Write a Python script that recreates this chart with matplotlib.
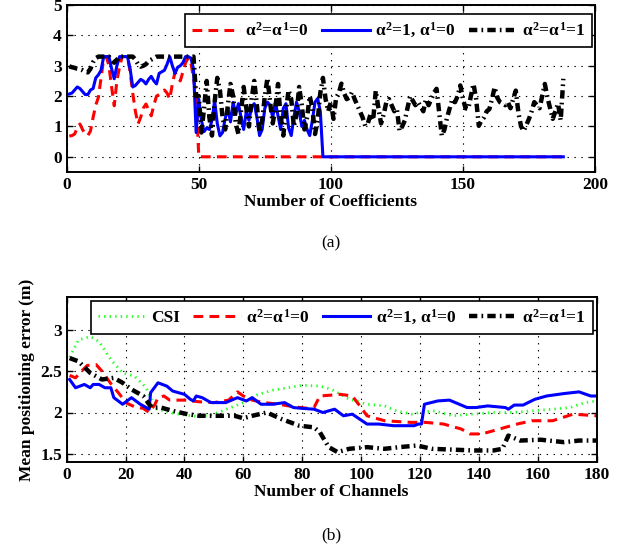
import numpy as np
import matplotlib
matplotlib.use("Agg")
import matplotlib.pyplot as plt

plt.rcParams['font.family'] = ['Liberation Serif', 'DejaVu Serif']
plt.rcParams['font.weight'] = 'bold'
plt.rcParams['mathtext.fontset'] = 'custom'
plt.rcParams['mathtext.rm'] = 'Liberation Serif:bold'
plt.rcParams['mathtext.it'] = 'Liberation Serif:bold'
plt.rcParams['mathtext.bf'] = 'Liberation Serif:bold'
plt.rcParams['lines.scale_dashes'] = False

# ---- (a) error vs number of coefficients ----
coef_red = [0.68, 0.7, 0.75, 0.95, 1.08, 0.9, 0.75, 0.7, 0.85, 1.3,
            1.7, 1.96, 2.6, 3.23, 3.3, 3.0, 2.3, 1.68, 2.5, 2.96,
            3.3, 3.3, 3.3, 2.8, 2.1, 1.5, 1.08, 1.3, 1.6, 1.74,
            1.55, 1.35, 1.7, 2.0, 2.05, 2.1, 2.2, 2.1, 1.9, 2.4,
            2.79, 2.6, 2.5, 2.8, 3.1, 3.25, 3.1, 2.6, 2.0] + [0.0] * 139

coef_blue = [2.07, 2.1, 2.2, 2.3, 2.25, 2.15, 2.05, 2.05, 2.2, 2.25,
             2.6, 2.7, 2.85, 3.3, 3.3, 3.3, 2.9, 2.57, 3.0, 3.3,
             3.3, 3.3, 3.3, 2.9, 2.3, 2.35, 2.45, 2.55, 2.5, 2.4,
             2.55, 2.65, 2.5, 2.4, 2.75, 2.8, 2.85, 3.05, 3.3, 3.0,
             2.75, 2.95, 3.0, 3.1, 3.3, 3.3, 3.25, 2.9, 0.8, 1.9,
             1.2, 0.83, 0.95, 0.9, 1.2, 1.85, 1.1, 0.69, 0.8, 1.26,
             1.6, 1.15, 1.79, 1.4, 1.75, 1.3, 0.9, 1.5, 1.2, 1.65,
             1.75, 1.3, 0.7, 0.9, 1.6, 1.8, 1.7, 1.3, 1.8, 1.35,
             0.9, 1.6, 1.75, 0.95, 0.7, 1.3, 1.8, 1.5, 1.0, 1.2,
             0.9, 0.7, 1.2, 1.8, 1.92, 1.5] + [0.0] * 92

coef_black = [2.98, 2.95, 2.93, 2.9, 2.88, 2.85, 2.8, 2.78, 2.9, 3.12,
              3.25, 3.3, 3.3, 3.3, 3.3, 3.3, 3.2, 3.1, 3.2, 3.3,
              3.3, 3.3, 3.3, 3.3, 3.3, 3.2, 3.05, 2.97, 3.0, 3.05,
              3.15, 3.2, 3.25, 3.3, 3.3, 3.3, 3.3, 3.3, 3.3, 3.3,
              3.3, 3.3, 3.3, 3.3, 3.3, 3.3, 3.3, 3.3, 2.0, 2.0,
              0.8, 1.6, 2.5, 1.3, 0.7, 1.8, 2.6, 2.2, 1.3, 0.9,
              1.7, 2.4, 2.0, 1.1, 0.75, 1.5, 2.3, 1.6, 1.0, 1.9,
              2.5, 1.7, 0.8, 1.2, 2.0, 2.6, 1.8, 1.1, 1.6, 2.4,
              1.3, 0.7, 1.5, 2.2, 1.9, 1.0, 1.4, 2.3, 1.7, 0.9,
              1.3, 2.0, 1.6, 0.75, 1.2, 2.1, 2.6, 1.9, 1.5, 1.8,
              1.25, 1.95, 2.1, 2.41, 2.1, 1.9, 1.95, 2.13, 1.9, 1.7,
              1.5, 1.3, 1.02, 1.1, 1.4, 1.2, 2.18, 1.6, 1.1, 1.4,
              1.8, 1.9, 1.7, 1.5, 1.57, 0.85, 1.0, 1.2, 1.6, 2.0,
              1.85, 1.7, 1.8, 1.65, 1.5, 1.9, 1.7, 1.9, 2.1, 2.24,
              1.45, 0.69, 0.9, 1.3, 1.6, 1.9, 1.8, 2.0, 2.35, 1.9,
              1.6, 1.57, 2.0, 2.4, 1.9, 1.02, 1.2, 1.3, 1.5, 1.57,
              1.9, 2.29, 1.95, 1.8, 1.75, 1.7, 1.8, 1.6, 1.9, 2.18,
              1.45, 1.0, 0.85, 1.05, 1.25, 1.5, 1.8, 1.7, 1.6, 2.0,
              2.4, 1.95, 1.6, 1.25, 1.5, 1.75, 1.2, 2.57]

# ---- (b) mean positioning error vs number of channels ----
csi_x = [1, 4, 8, 11, 15, 19, 23, 27, 30, 35, 40, 45, 50, 55, 60, 65, 70,
         75, 80, 86, 90, 96, 102, 108, 112, 117, 120, 125, 131, 138, 145,
         152, 158, 165, 171, 176, 180]
csi_y = [2.67, 2.88, 2.92, 2.86, 2.64, 2.48, 2.44, 2.3, 2.05, 2.0, 1.97,
         1.95, 1.98, 2.05, 2.12, 2.22, 2.27, 2.3, 2.33, 2.32, 2.28, 2.16,
         2.1, 2.08, 2.02, 1.98, 2.0, 2.02, 1.96, 1.98, 2.0, 2.0, 2.02,
         2.04, 2.06, 2.12, 2.14]

red_x = [1, 3, 5, 7, 10, 12, 15, 18, 20, 23, 26, 28, 30, 31, 33, 35, 40,
         45, 50, 55, 58, 60, 63, 67, 72, 77, 82, 84, 86, 93, 97, 100, 102,
         108, 117, 122, 128, 134, 137, 141, 147, 153, 158, 165, 172, 180]
red_y = [2.45, 2.42, 2.5, 2.57, 2.58, 2.5, 2.35, 2.22, 2.12, 2.07, 2.05,
         2.0, 2.1, 2.18, 2.2, 2.15, 2.15, 2.13, 2.12, 2.15, 2.25, 2.2,
         2.15, 2.12, 2.1, 2.07, 2.05, 2.06, 2.2, 2.22, 2.2, 2.06, 1.96,
         1.9, 1.88, 1.88, 1.86, 1.8, 1.74, 1.74, 1.8, 1.86, 1.9, 1.9,
         1.98, 1.96]

blue_x = [1, 3, 6, 8, 9, 11, 13, 15, 16, 19, 22, 25, 27, 28, 28.5, 31, 34,
          36, 40, 42, 43, 44, 46, 49, 54, 58, 61, 63, 66, 70, 74, 77, 80,
          84, 87, 91, 94, 97, 102, 106, 111, 118, 119.5, 120.5, 121.5, 126,
          130, 136, 139, 143, 149, 150, 152, 155, 159, 163, 169, 174, 178,
          180]
blue_y = [2.4, 2.3, 2.34, 2.3, 2.34, 2.34, 2.3, 2.3, 2.18, 2.1, 2.18,
          2.1, 2.06, 2.04, 2.24, 2.36, 2.32, 2.26, 2.22, 2.16, 2.14, 2.2,
          2.18, 2.12, 2.12, 2.18, 2.14, 2.18, 2.1, 2.1, 2.12, 2.06, 2.05,
          2.04, 2.0, 2.04, 1.96, 1.98, 1.86, 1.86, 1.84, 1.84, 1.86, 1.86,
          2.1, 2.14, 2.15, 2.06, 2.06, 2.08, 2.06, 2.04, 2.09, 2.09, 2.16,
          2.2, 2.23, 2.25, 2.2, 2.2]

black_x = [1, 4, 8, 12, 16, 19, 22, 26, 28, 29, 32, 36, 41, 45, 52, 57,
           60, 63, 68, 73, 79, 84, 86, 89, 92, 96, 102, 108, 113, 119,
           124, 131, 138, 145, 148, 150, 154, 161, 169, 174, 180]
black_y = [2.66, 2.62, 2.48, 2.4, 2.42, 2.36, 2.28, 2.2, 2.1, 2.06, 2.06,
           2.02, 1.98, 1.96, 1.96, 1.96, 1.93, 1.96, 2.0, 1.92, 1.84, 1.82,
           1.76, 1.58, 1.52, 1.56, 1.58, 1.56, 1.58, 1.6, 1.56, 1.55, 1.54,
           1.54, 1.56, 1.72, 1.66, 1.67, 1.64, 1.66, 1.66]

labels = ['CSI', r'$\alpha^2$=$\alpha^1$=0', r'$\alpha^2$=1, $\alpha^1$=0',
          r'$\alpha^2$=$\alpha^1$=1']

red_style = dict(color='#ff0000', lw=2.2, dashes=(7, 4.5))
blue_style = dict(color='#0000ff', lw=2.2)
black_style = dict(color='black', lw=3.2, dashes=(6, 3, 1.2, 3))
green_style = dict(color='#22ff22', lw=2.0, dashes=(1, 3))


def style_axes(ax):
    ax.grid(True, color='black', lw=0.8, dashes=(1, 4))
    ax.tick_params(direction='in', top=True, right=True, length=4,
                   labelsize=12.5, width=1)
    for s in ax.spines.values():
        s.set_linewidth(1.4)


def add_legend(ax, anchor, ncol):
    leg = ax.legend(loc='upper right', bbox_to_anchor=anchor, ncol=ncol,
                    fontsize=12.5, handlelength=2.75, columnspacing=0.75,
                    handletextpad=0.3, borderpad=0.4, borderaxespad=0,
                    fancybox=False, framealpha=1, edgecolor='black')
    leg.get_frame().set_linewidth(1.2)
    return leg


fig = plt.figure(figsize=(6.28, 5.5), dpi=100)

ax1 = fig.add_axes([0.1062, 0.6873, 0.8413, 0.3036])
ax1.plot(np.arange(1, len(coef_red) + 1), coef_red, label=labels[1], **red_style)
ax1.plot(np.arange(1, len(coef_blue) + 1), coef_blue, label=labels[2], **blue_style)
ax1.plot(np.arange(1, len(coef_black) + 1), coef_black, label=labels[3], **black_style)
ax1.set_xlim(0, 200)
ax1.set_ylim(-0.5, 5)
ax1.set_xticks(np.arange(0, 201, 50))
ax1.set_yticks(np.arange(0, 6, 1))
ax1.set_xlabel('Number of Coefficients', fontsize=12.5, fontweight='bold', labelpad=1)
style_axes(ax1)
add_legend(ax1, (0.994, 0.946), 3)

ax2 = fig.add_axes([0.1062, 0.16, 0.8439, 0.30])
ax2.plot(csi_x, csi_y, label=labels[0], **green_style)
ax2.plot(red_x, red_y, label=labels[1], **red_style)
ax2.plot(blue_x, blue_y, label=labels[2], **blue_style)
ax2.plot(black_x, black_y, label=labels[3], **black_style)
ax2.set_xlim(0, 180)
ax2.set_ylim(1.4, 3.4)
ax2.set_xticks(np.arange(0, 181, 20))
ax2.set_yticks([1.5, 2, 2.5, 3])
ax2.set_yticklabels(['1.5', '2', '2.5', '3'])
ax2.set_xlabel('Number of Channels', fontsize=12.5, fontweight='bold', labelpad=1)
ax2.set_ylabel('Mean positioning error (m)', fontsize=12.5, fontweight='bold')
style_axes(ax2)
add_legend(ax2, (0.9925, 0.9776), 4)

fig.text(0.527, 1 - 243 / 550, '(a)', ha='center', va='center',
         fontsize=12.5, fontweight='normal')
fig.text(0.527, 1 - 535 / 550, '(b)', ha='center', va='center',
         fontsize=12.5, fontweight='normal')

fig.savefig('out.png', dpi=100)
